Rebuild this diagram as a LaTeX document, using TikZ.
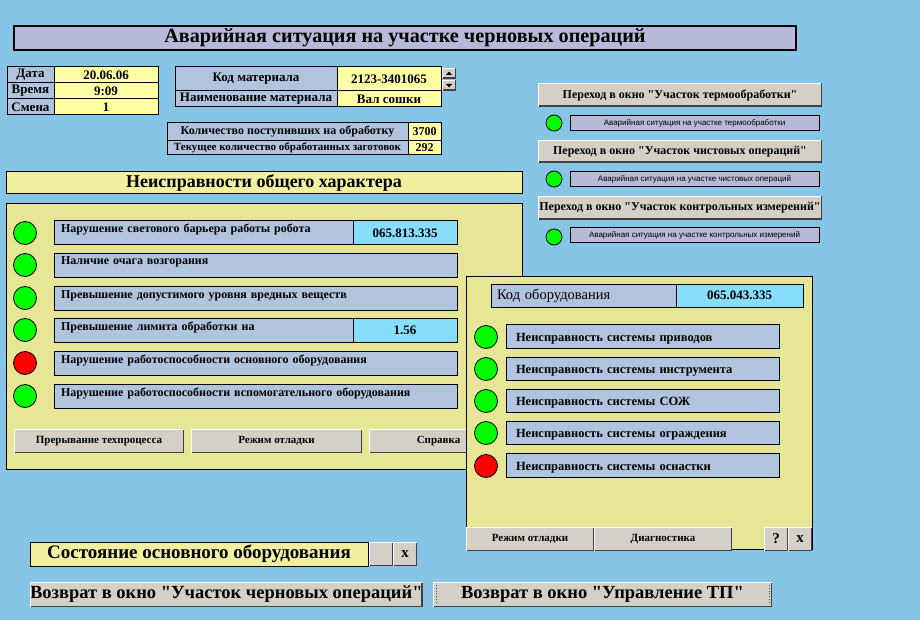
\documentclass[tikz,border=0pt]{standalone}
\usepackage{fontspec}
\setmainfont{Liberation Serif}[Ligatures=TeXOff]
\newfontfamily\sansf{Liberation Sans}[Ligatures=TeXOff]
\definecolor{bgblue}{HTML}{86C5E5}
\definecolor{steel}{HTML}{B0C4DE}
\definecolor{lav}{HTML}{B6BAD8}
\definecolor{lyel}{HTML}{FFFFA6}
\definecolor{khaki}{HTML}{E6E696}
\definecolor{hyel}{HTML}{F0F0A0}
\definecolor{cyanv}{HTML}{86DEFC}
\definecolor{btngray}{HTML}{D4D0C8}
\definecolor{ledg}{HTML}{00FF00}
\definecolor{ledr}{HTML}{FF0000}
\newcommand\RB[7]{%
  \pgfmathsetmacro\rbw{#4-#2}\pgfmathsetmacro\rbh{#5-#3}%
  \node[anchor=north west,inner sep=0pt,outer sep=0pt,minimum width=\rbw pt,minimum height=\rbh pt,#6] (#1) at (#2,#3) {#7};}
\newcommand\LB[8]{% name x1 y1 x2 y2 pad style text
  \pgfmathsetmacro\rbw{#4-#2}\pgfmathsetmacro\rbh{#5-#3}\pgfmathsetmacro\rbtw{#4-#2-2*#6}%
  \node[anchor=north west,inner ysep=0pt,inner xsep=#6pt,outer sep=0pt,minimum width=\rbw pt,minimum height=\rbh pt,text width=\rbtw pt,align=left,#7] (#1) at (#2,#3) {#8};}
\newcommand\bev[1]{%
  \draw[white,line width=1pt] ([shift={(0.5pt,0.5pt)}]#1.south west) -- ([shift={(0.5pt,-0.5pt)}]#1.north west) -- ([shift={(-0.5pt,-0.5pt)}]#1.north east);
  \draw[black!75,line width=1.5pt] ([shift={(-0.75pt,-0.5pt)}]#1.north east) -- ([shift={(-0.75pt,0.75pt)}]#1.south east) -- ([shift={(0.5pt,0.75pt)}]#1.south west);}
\tikzset{
  cell/.style={draw=black,line width=1pt},
  lbl/.style={cell,fill=steel},
  val/.style={cell,fill=lyel},
  cyv/.style={cell,fill=cyanv},
  lavbox/.style={cell,fill=lav},
  btnbox/.style={fill=btngray},
  led/.style={circle,draw=black,line width=0.8pt,fill=ledg,minimum size=23pt,inner sep=0pt},
  ledsm/.style={led,minimum size=16pt},
  ledoff/.style={fill=ledr},
  fb/.style={font=\fontsize{#1}{#1}\selectfont\bfseries},
  fr/.style={font=\fontsize{#1}{#1}\selectfont},
  fs/.style={font=\sansf\fontsize{#1}{#1}\selectfont},
  up/.style={text height=5pt,text depth=5pt},
  mid/.style={text height=12pt,text depth=2pt},
  focus/.style={dotted,line width=0.8pt,black!70}
}
\begin{document}
\begin{tikzpicture}[x=1pt,y=-1pt]
\useasboundingbox (0,0) rectangle (920,620);
\fill[bgblue] (0,0) rectangle (920,620);

% title
\RB{title}{14}{26}{796}{50}{draw=black,line width=1.5pt,fill=lav,fb=20.2}{Аварийная ситуация на участке черновых операций}

% date table
\RB{dl1}{7}{67}{54}{83}{lbl,fb=13}{Дата}
\RB{dv1}{54}{67}{158}{83}{val,fb=13}{20.06.06}
\RB{dl2}{7}{83}{54}{99}{lbl,fb=13}{Время}
\RB{dv2}{54}{83}{158}{99}{val,fb=13}{9:09}
\RB{dl3}{7}{99}{54}{115}{lbl,fb=13}{Смена}
\RB{dv3}{54}{99}{158}{115}{val,fb=13}{1}

% material
\RB{ml1}{175}{67}{337}{91}{lbl,fb=13}{Код материала}
\RB{mv1}{337}{67}{441}{91}{val,fb=13}{2123-3401065}
\RB{ml2}{175}{91}{337}{107}{lbl,fb=13}{Наименование материала}
\RB{mv2}{337}{91}{441}{107}{val,fb=13}{Вал сошки}
\RB{spu}{442}{68}{456}{79}{btnbox}{}
\bev{spu}
\RB{spd}{442}{80}{456}{91}{btnbox}{}
\bev{spd}
\fill (spu.center) ++(-3pt,-1.5pt) -- ++(6pt,0pt) -- ++(-3pt,3.5pt) -- cycle;
\fill (spd.center) ++(-3pt,1.5pt) -- ++(6pt,0pt) -- ++(-3pt,-3.5pt) -- cycle;

% quantities
\RB{ql1}{167}{123}{408}{141}{lbl,fb=12}{Количество поступивших на обработку}
\RB{qv1}{408}{123}{441}{141}{val,fb=12}{3700}
\RB{ql2}{167}{141}{408}{155}{lbl,fb=11}{Текущее количество обработанных заготовок}
\RB{qv2}{408}{141}{441}{155}{val,fb=12}{292}

% right column navigation
\RB{nb1}{538}{83}{822}{107}{btnbox,fb=12}{Переход в окно "Участок термообработки"}
\bev{nb1}
\node[ledsm] (nc1) at (554,123) {};
\RB{ns1}{570}{116}{819}{131}{lavbox,fs=8}{Аварийная ситуация на участке термообработки}
\RB{nb2}{538}{140}{822}{163}{btnbox,fb=12}{Переход в окно "Участок чистовых операций"}
\bev{nb2}
\node[ledsm] (nc2) at (554,179) {};
\RB{ns2}{570}{172}{819}{187}{lavbox,fs=8}{Аварийная ситуация на участке чистовых операций}
\RB{nb3}{538}{196}{822}{220}{btnbox,fb=12}{Переход в окно "Участок контрольных измерений"}
\bev{nb3}
\node[ledsm] (nc3) at (554,237) {};
\RB{ns3}{570}{228}{819}{243}{lavbox,fs=8}{Аварийная ситуация на участке контрольных измерений}

% left panel
\RB{ghdr}{6}{172}{522}{194}{cell,fill=hyel,fb=18}{Неисправности общего характера}
\RB{gpan}{6}{204}{522}{469}{cell,fill=khaki}{}
\LB{g1}{54}{221}{457}{245}{7}{lbl,fb=12,up}{Нарушение светового барьера работы  робота}
\RB{g1v}{353}{221}{457}{245}{cyv,fb=13}{065.813.335}
\LB{g2}{54}{253}{457}{277}{7}{lbl,fb=12,up}{Наличие очага возгорания}
\LB{g3}{54}{286}{457}{310}{7}{lbl,fb=12,up}{Превышение допустимого уровня вредных веществ}
\LB{g4}{54}{318}{457}{342}{7}{lbl,fb=12,up}{Превышение лимита обработки на}
\RB{g4v}{353}{318}{457}{342}{cyv,fb=13}{1.56}
\LB{g5}{54}{351}{457}{375}{7}{lbl,fb=12,up}{Нарушение работоспособности основного оборудования}
\LB{g6}{54}{384}{457}{408}{7}{lbl,fb=12,up}{Нарушение работоспособности вспомогательного оборудования}
\node[led] (gl1) at (25,233) {};
\node[led] (gl2) at (25,265) {};
\node[led] (gl3) at (25,298) {};
\node[led] (gl4) at (25,330) {};
\node[led,ledoff] (gl5) at (25,363) {};
\node[led] (gl6) at (25,396) {};
\RB{gb1}{14}{429}{184}{453}{btnbox,fb=11}{Прерывание техпроцесса}
\bev{gb1}
\RB{gb2}{191}{429}{362}{453}{btnbox,fb=11}{Режим отладки}
\bev{gb2}
\RB{gb3}{369}{429}{508}{453}{btnbox,fb=11}{Справка}
\bev{gb3}

% right panel
\RB{epan}{466}{276}{812}{549}{cell,fill=khaki}{}
\LB{ek}{491}{284}{676}{307}{6}{lbl,fr=14.5}{Код оборудования}
\RB{ekv}{676}{284}{803}{307}{cyv,fb=13}{065.043.335}
\LB{e1}{506}{324}{779}{348}{10}{lbl,fb=12.5,mid}{Неисправность системы приводов}
\LB{e2}{506}{357}{779}{380}{10}{lbl,fb=12.5,mid}{Неисправность системы инструмента}
\LB{e3}{506}{389}{779}{412}{10}{lbl,fb=12.5,mid}{Неисправность системы СОЖ}
\LB{e4}{506}{421}{779}{444}{10}{lbl,fb=12.5,mid}{Неисправность системы ограждения}
\LB{e5}{506}{453}{779}{477}{10}{lbl,fb=12.5,mid}{Неисправность системы оснастки}
\node[led] (el1) at (486,337) {};
\node[led] (el2) at (486,369) {};
\node[led] (el3) at (486,401) {};
\node[led] (el4) at (486,433) {};
\node[led,ledoff] (el5) at (486,466) {};
\RB{eb1}{466}{527}{594}{551}{btnbox,fb=11}{Режим отладки}
\bev{eb1}
\RB{eb2}{594}{527}{732}{551}{btnbox,fb=11}{Диагностика}
\bev{eb2}
\RB{eb3}{764}{527}{788}{551}{btnbox,fb=15}{?}
\bev{eb3}
\RB{eb4}{788}{527}{812}{551}{btnbox,fb=15}{x}
\bev{eb4}

% bottom
\RB{st}{30}{542}{368}{566}{cell,fill=hyel,fb=19}{Состояние основного оборудования}
\RB{stb}{369}{542}{393}{566}{btnbox}{}
\bev{stb}
\RB{stx}{393}{542}{417}{566}{btnbox,fb=15}{x}
\bev{stx}
\RB{ret1}{30}{582}{417}{607}{btnbox,fb=18.5}{Возврат в окно "Участок черновых операций"}
\bev{ret1}
\RB{ret2}{433}{582}{772}{607}{btnbox,fb=18.5}{Возврат в окно "Управление ТП"}
\bev{ret2}
\draw[focus] ([shift={(3pt,-3pt)}]ret2.north west) -- ([shift={(3pt,3pt)}]ret2.south west);
\draw[focus] ([shift={(-3pt,-3pt)}]ret2.north east) -- ([shift={(-3pt,3pt)}]ret2.south east);
\end{tikzpicture}
\end{document}
